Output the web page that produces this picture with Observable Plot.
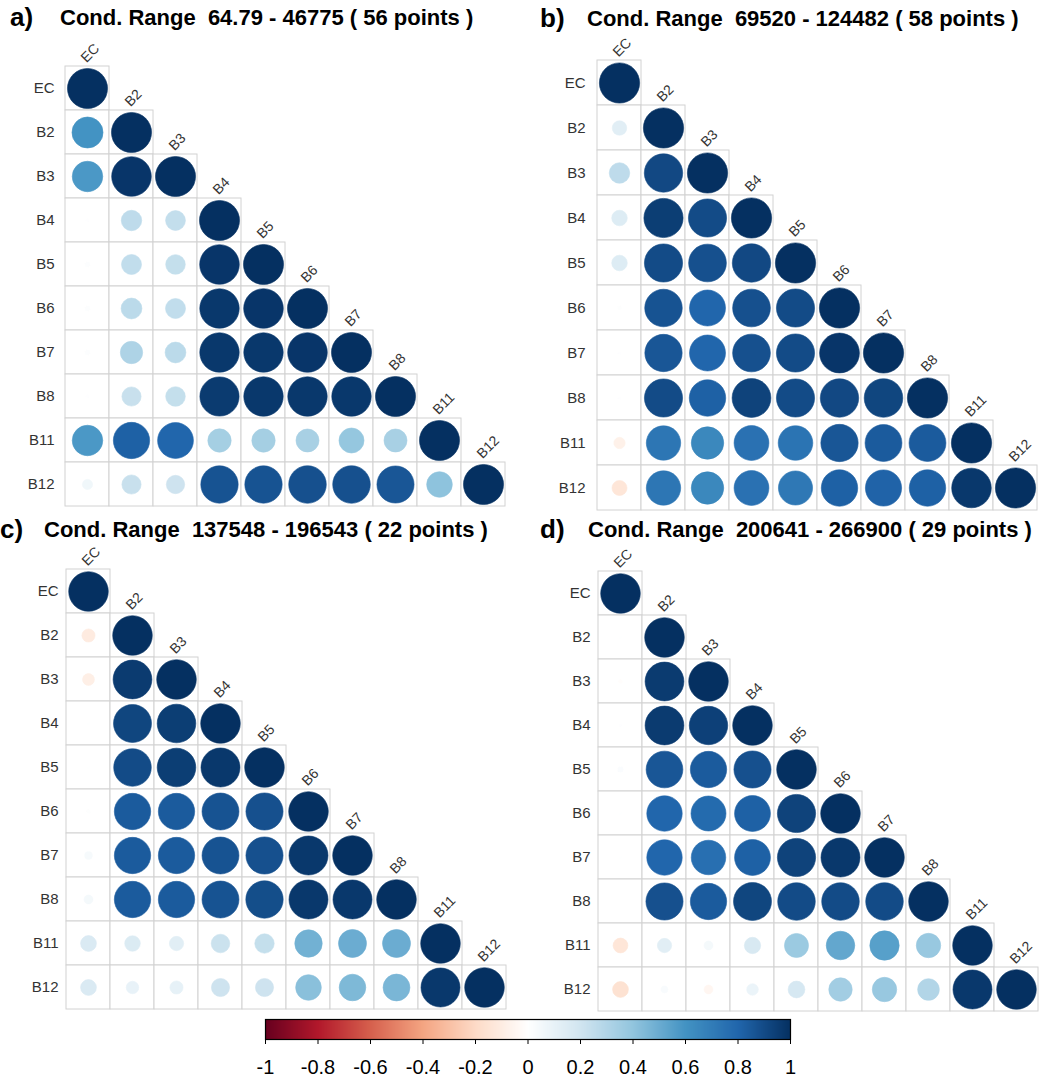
<!DOCTYPE html>
<html>
<head>
<meta charset="utf-8">
<script src="https://cdn.jsdelivr.net/npm/d3@7"></script>
<script src="https://cdn.jsdelivr.net/npm/@observablehq/plot@0.6"></script>
<style>
  html, body { margin: 0; padding: 0; background: #fff; overflow: hidden; }
  #root { position: relative; width: 1051px; height: 1080px; font-family: "Liberation Sans", Arial, sans-serif; }
  .tag, .title { position: absolute; white-space: pre; font-weight: bold; color: #000; line-height: 1; z-index: 2; }
  .tag { font-size: 26px; }
  .title { font-size: 22px; }
  .panel { position: absolute; z-index: 1; }
</style>
</head>
<body>
<div id="root"></div>
<script>
// Variables shown in every correlation matrix (rows and columns)
const bands = ["EC", "B2", "B3", "B4", "B5", "B6", "B7", "B8", "B11", "B12"];

// Panel tags and headings
const tags = ["a)", "b)", "c)", "d)"];
const titles = [
  "Cond. Range  64.79 - 46775 ( 56 points )",
  "Cond. Range  69520 - 124482 ( 58 points )",
  "Cond. Range  137548 - 196543 ( 22 points )",
  "Cond. Range  200641 - 266900 ( 29 points )"
];

// Lower-triangle correlation coefficients, one row per band (diagonal included)
const corrA = [
  [1],
  [0.60, 1],
  [0.58, 0.98, 1],
  [0.005, 0.26, 0.245, 1],
  [0.015, 0.25, 0.24, 0.98, 1],
  [0.015, 0.27, 0.25, 0.97, 0.98, 1],
  [0.015, 0.31, 0.27, 0.97, 0.97, 0.98, 1],
  [0.005, 0.23, 0.24, 0.96, 0.97, 0.97, 0.97, 1],
  [0.58, 0.82, 0.80, 0.34, 0.34, 0.33, 0.39, 0.33, 1],
  [0.065, 0.23, 0.21, 0.87, 0.87, 0.88, 0.88, 0.86, 0.41, 1]
];
const corrB = [
  [1],
  [0.13, 1],
  [0.26, 0.91, 1],
  [0.15, 0.95, 0.90, 1],
  [0.15, 0.90, 0.88, 0.91, 1],
  [0.01, 0.87, 0.80, 0.88, 0.90, 1],
  [0.005, 0.86, 0.80, 0.88, 0.90, 0.98, 1],
  [0.005, 0.90, 0.82, 0.93, 0.90, 0.91, 0.92, 1],
  [-0.08, 0.73, 0.65, 0.75, 0.74, 0.86, 0.84, 0.84, 1],
  [-0.14, 0.73, 0.65, 0.75, 0.72, 0.82, 0.81, 0.82, 0.97, 1]
];
const corrC = [
  [1],
  [-0.11, 1],
  [-0.09, 0.96, 1],
  [0.003, 0.92, 0.95, 1],
  [0.003, 0.90, 0.95, 0.97, 1],
  [0.01, 0.84, 0.84, 0.87, 0.88, 1],
  [0.04, 0.84, 0.84, 0.87, 0.88, 0.97, 1],
  [0.05, 0.84, 0.84, 0.87, 0.89, 0.97, 0.97, 1],
  [0.16, 0.155, 0.13, 0.22, 0.24, 0.48, 0.50, 0.50, 1],
  [0.16, 0.10, 0.11, 0.21, 0.21, 0.42, 0.45, 0.46, 0.97, 1]
];
const corrD = [
  [1],
  [0.003, 1],
  [-0.01, 0.96, 1],
  [0.005, 0.96, 0.94, 1],
  [0.02, 0.86, 0.84, 0.88, 1],
  [0.003, 0.80, 0.78, 0.82, 0.93, 1],
  [0.003, 0.80, 0.76, 0.82, 0.93, 0.97, 1],
  [0.002, 0.88, 0.84, 0.92, 0.90, 0.90, 0.90, 1],
  [-0.14, 0.13, 0.05, 0.17, 0.37, 0.52, 0.55, 0.38, 1],
  [-0.16, 0.03, -0.05, 0.085, 0.18, 0.35, 0.38, 0.30, 0.97, 1]
];
const matrices = [corrA, corrB, corrC, corrD];

// Colour bar ticks
const colorTicks = [-1, -0.8, -0.6, -0.4, -0.2, 0, 0.2, 0.4, 0.6, 0.8, 1];
const tickLabels = ["-1", "-0.8", "-0.6", "-0.4", "-0.2", "0", "0.2", "0.4", "0.6", "0.8", "1"];

// Diverging red–blue palette with a pure white centre
const palette = ["#67001F", "#B2182B", "#D6604D", "#F4A582", "#FDDBC7", "#FFFFFF",
                 "#D1E5F0", "#92C5DE", "#4393C3", "#2166AC", "#053061"];

// Page placement of each matrix grid (top-left corner and cell size)
const layout = [
  {gx: 62,  gy: 62,  cw: 44.5, ch: 44.7, tagX: 10,  titleX: 60,  base: 26},
  {gx: 593, gy: 60,  cw: 44.7, ch: 45,   tagX: 540, titleX: 587, base: 27},
  {gx: 66,  gy: 568, cw: 44,   ch: 44.1, tagX: 0,   titleX: 44,  base: 538},
  {gx: 598, gy: 571, cw: 44,   ch: 44,   tagX: 540, titleX: 588, base: 538}
];

const FONT = '"Liberation Sans", Arial, sans-serif';
const root = document.getElementById("root");
const colorScale = {type: "linear", domain: d3.range(11).map(k => -1 + k * 0.2), range: palette, interpolate: "rgb", clamp: true};

function addText(cls, text, left, baseline, size) {
  const el = document.createElement("div");
  el.className = cls;
  el.textContent = text;
  el.style.left = left + "px";
  el.style.top = (baseline - 0.8465 * size) + "px";
  root.appendChild(el);
}

matrices.forEach((m, i) => {
  const L = layout[i];
  const cells = m.flatMap((row, r) => row.map((value, c) => ({row: bands[r], col: bands[c], value})));
  const diag = cells.filter(d => d.row === d.col);

  const mt = 45, ml = 62, mr = 14, mb = 4;
  const width = ml + 10 * L.cw + mr;
  const height = mt + 10 * L.ch + mb;

  const chart = Plot.plot({
    width, height,
    marginTop: mt, marginLeft: ml, marginRight: mr, marginBottom: mb,
    x: {domain: bands, padding: 0, axis: null},
    y: {domain: bands, padding: 0, axis: null},
    color: colorScale,
    r: {type: "sqrt", domain: [0, 1], range: [0, 0.45 * Math.min(L.cw, L.ch)]},
    style: {background: "transparent", fontFamily: FONT, color: "#333", overflow: "visible"},
    marks: [
      Plot.cell(cells, {x: "col", y: "row", fill: "white", stroke: "#d2d2d2", strokeWidth: 1, inset: 0}),
      Plot.dot(cells, {x: "col", y: "row", r: d => Math.abs(d.value), fill: "value", stroke: "value", strokeWidth: 0.6}),
      Plot.axisY({tickSize: 0, tickPadding: 8, fontSize: 15, label: null, fill: "#333"}),
      Plot.text(diag, {
        x: "col", y: "row", text: "col", rotate: -45,
        textAnchor: "start", lineAnchor: "bottom",
        dx: -1, dy: -L.ch / 2 - 3, fontSize: 14, fill: "#333"
      })
    ]
  });

  const holder = document.createElement("div");
  holder.className = "panel";
  holder.style.left = (L.gx - ml) + "px";
  holder.style.top = (L.gy - mt) + "px";
  holder.style.width = width + "px";
  holder.appendChild(chart);
  root.appendChild(holder);

  addText("tag", tags[i], L.tagX, L.base, 26);
  addText("title", titles[i], L.titleX, L.base, 22);
});

// Shared colour bar
const barLeft = 240, barTop = 1013;
const bar = Plot.plot({
  width: 580, height: 65,
  marginLeft: 25, marginRight: 30, marginTop: 6, marginBottom: 39,
  x: {domain: [-1, 1], axis: null},
  y: {domain: [0, 1], axis: null},
  color: colorScale,
  style: {background: "transparent", fontFamily: FONT, color: "#000", overflow: "visible"},
  marks: [
    Plot.raster({x1: -1, x2: 1, y1: 0, y2: 1, width: 525, height: 1, fill: (x, y) => x}),
    Plot.frame({stroke: "#000", strokeWidth: 1.2}),
    Plot.axisX({
      ticks: colorTicks,
      tickFormat: d => tickLabels[colorTicks.indexOf(d)],
      tickSize: 5, tickPadding: 15, fontSize: 20, label: null, stroke: "#000", fill: "#000"
    })
  ]
});
const barHolder = document.createElement("div");
barHolder.className = "panel";
barHolder.style.left = barLeft + "px";
barHolder.style.top = barTop + "px";
barHolder.style.width = "580px";
barHolder.appendChild(bar);
root.appendChild(barHolder);
</script>
</body>
</html>
